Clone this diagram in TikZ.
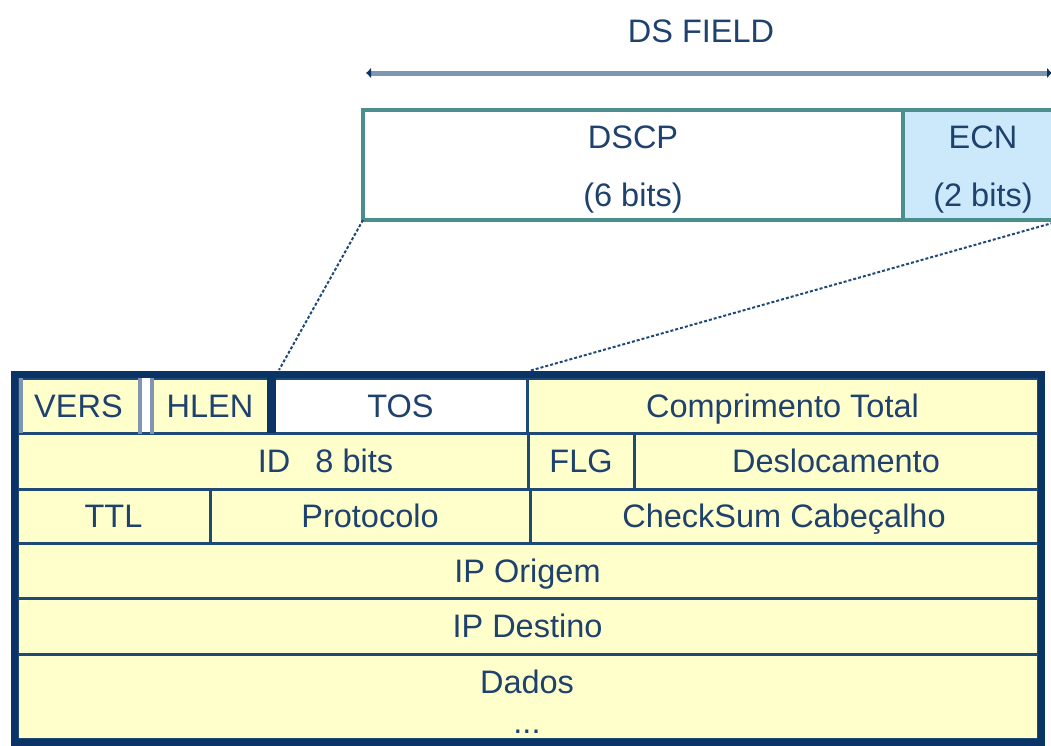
\documentclass[tikz,border=0pt]{standalone}
\usepackage{fontspec}
\setmainfont{Liberation Sans}
\usetikzlibrary{arrows.meta}
\definecolor{navy}{HTML}{0B3466}
\definecolor{cellline}{HTML}{1F4A78}
\definecolor{pale}{HTML}{FFFFCC}
\definecolor{ink}{HTML}{1E416E}
\definecolor{tealline}{HTML}{4A8F8B}
\definecolor{ecnblue}{HTML}{CCE9FC}
\definecolor{rulecol}{HTML}{7D96B2}
\definecolor{barcol}{HTML}{8096B0}
\begin{document}
\begin{tikzpicture}[x=1pt,y=-1pt,
  txt/.style={font=\fontsize{32.5}{39}\selectfont, text=ink, inner sep=0pt,
              text height=23.3pt, text depth=0pt},
  cell/.style={rectangle, fill=pale, draw=cellline, line width=3pt,
               inner sep=0pt, outer sep=0pt, font=\fontsize{32.5}{39}\selectfont,
               text=ink, text height=23.3pt, text depth=0pt},
  dsbox/.style={rectangle, draw=tealline, line width=4pt, inner sep=0pt, outer sep=0pt},
  greybar/.style={barcol, line width=4pt},
  zoomline/.style={cellline, line width=2pt, dash pattern=on 3pt off 2pt}]
\useasboundingbox (0,0) rectangle (1051,745);
\clip (0,0) rectangle (1051,745);

% DS field title and span arrow
\node[txt] (title) at (701,31) {DS FIELD};
\coordinate (fl) at (366,73);
\coordinate (fr) at (1052,73);
\draw[rulecol, line width=5pt,
      arrows={Latex[length=5pt,width=11pt,color=navy]-Latex[length=5pt,width=11pt,color=navy]}]
  (fl) -- (fr);

% DS field: DSCP and ECN
\node[dsbox, fill=white, minimum width=540pt, minimum height=110pt] (dscp) at (633,165) {};
\node[dsbox, fill=ecnblue, minimum width=160pt, minimum height=110pt] (ecn) at (983,165) {};
\node[txt] (dscpname) at (633,137) {DSCP};
\node[txt] (dscpbits) at (633,195) {(6 bits)};
\node[txt] (ecnname) at (983,137) {ECN};
\node[txt] (ecnbits) at (983,195) {(2 bits)};

% zoom lines down to the TOS byte
\coordinate (tosl) at (279,370);
\coordinate (tosr) at (529,371);
\draw[zoomline] (dscp.south west) -- (tosl);
\draw[zoomline] (ecn.south east) -- (tosr);

% row 1
\node[cell, minimum width=123pt, minimum height=55pt] (vers) at (78.5,405.5) {VERS};
\node[cell, minimum width=116pt, minimum height=55pt] (hlen) at (210,405.5) {HLEN};
\node[cell, fill=white, minimum width=253pt, minimum height=55pt] (tos) at (400.5,405.5) {TOS};
\node[cell, minimum width=511pt, minimum height=55pt] (comp) at (782.5,405.5) {Comprimento Total};
% row 2
\node[cell, minimum width=511pt, minimum height=56pt] (id) at (272.5,461) {};
\node[txt] (idlabel) at (325.5,461) {ID\hspace{25pt}8 bits};
\node[cell, minimum width=106pt, minimum height=56pt] (flg) at (581,461) {FLG};
\node[cell, minimum width=404pt, minimum height=56pt] (desl) at (836,461) {Deslocamento};
% row 3
\node[cell, minimum width=193pt, minimum height=54pt] (ttl) at (113.5,516) {TTL};
\node[cell, minimum width=320pt, minimum height=54pt] (proto) at (370,516) {Protocolo};
\node[cell, minimum width=508pt, minimum height=54pt] (check) at (784,516) {CheckSum Cabeçalho};
% rows 4 to 6
\node[cell, minimum width=1021pt, minimum height=55pt] (orig) at (527.5,570.5) {IP Origem};
\node[cell, minimum width=1021pt, minimum height=56pt] (dest) at (527.5,626) {IP Destino};
\node[cell, minimum width=1021pt, minimum height=85pt] (dados) at (527.5,696.5) {};
\node[txt] (dadoslabel) at (527,682) {Dados};
\node[font=\fontsize{32.5}{39}\selectfont, text=ink, inner sep=0pt, anchor=base] (dots) at (527,733) {...};

% bevelled edges of VERS and HLEN, thick edge before TOS
\draw[greybar] ([xshift=4pt]vers.north west) -- ([xshift=4pt]vers.south west);
\draw[greybar] (vers.north east) -- ([yshift=-1pt]vers.south east);
\draw[greybar] (hlen.north west) -- ([yshift=-1pt]hlen.south west);
\draw[navy, line width=9pt] ([xshift=3pt]hlen.north east) -- ([xshift=3pt]hlen.south east);

% outer frame
\draw[navy, line width=7pt] (14,374) rectangle (1041,742);
\end{tikzpicture}
\end{document}
